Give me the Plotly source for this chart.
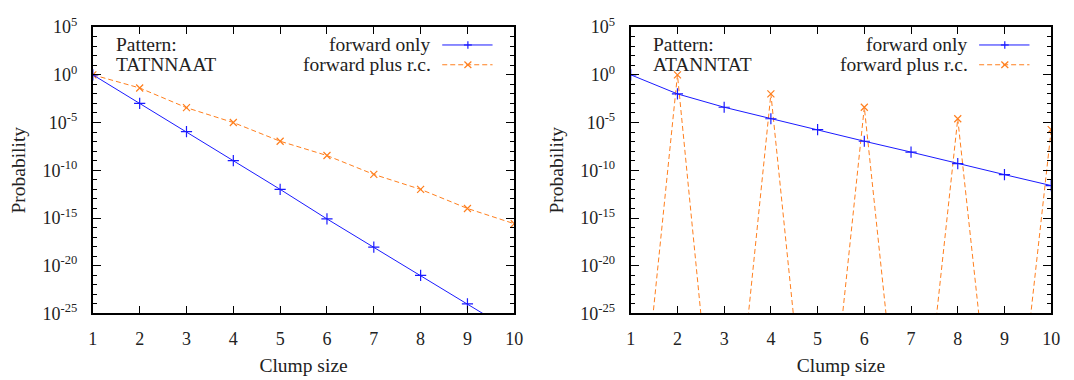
import plotly.graph_objects as go
from plotly.subplots import make_subplots

W, H = 1074, 380

clump_size = [1, 2, 3, 4, 5, 6, 7, 8, 9, 10]

# Pattern TATNNAAT
tat_forward = [1.0, 1.0e-3, 1.1e-6, 1.0e-9, 1.0e-12, 8.0e-16, 9.0e-19, 1.0e-21, 1.0e-24, 1.0e-27]
tat_forward_rc = [1.0, 4.2e-2, 3.6e-4, 1.0e-5, 1.1e-7, 3.5e-9, 3.7e-11, 1.0e-12, 1.0e-14, 2.5e-16]

# Pattern ATANNTAT
ata_forward = [1.0, 1.0e-2, 4.0e-4, 2.5e-5, 1.8e-6, 1.1e-7, 8.0e-9, 5.0e-10, 3.5e-11, 2.5e-12]
ata_forward_rc = [1.0e-48, 1.0, 1.0e-50, 1.0e-2, 1.0e-50, 4.0e-4, 1.0e-50, 2.5e-5, 1.0e-50, 1.8e-6]

patterns = ["TATNNAAT", "ATANNTAT"]
series_names = ["forward only", "forward plus r.c."]

y_tick_exp = [5, 0, -5, -10, -15, -20, -25]
y_tick_text = ["10<sup>%d</sup>" % e for e in y_tick_exp]

BLUE = "#1a1aff"
ORANGE = "#ff7f1e"
FONT = "Liberation Serif"
TXT = "#222"
TICK_SIZE = 18
TEXT_SIZE = 19.5

# frame geometry in pixels (left, right, top, bottom)
frames = [(89, 516, 16, 320), (634, 1060, 16, 320)]


def px(x):
    return x / W


def py(y):
    return 1 - y / H


fig = make_subplots(rows=1, cols=2)

panels = [(tat_forward, tat_forward_rc), (ata_forward, ata_forward_rc)]
for i, (fwd, rc) in enumerate(panels):
    col = i + 1
    fig.add_trace(go.Scatter(
        x=clump_size, y=rc, mode="lines+markers", name=series_names[1],
        line=dict(color=ORANGE, width=1, dash="5px,3px"),
        marker=dict(symbol="x-thin", size=7, line=dict(color=ORANGE, width=1.2)),
        showlegend=False), row=1, col=col)
    fig.add_trace(go.Scatter(
        x=clump_size, y=fwd, mode="lines+markers", name=series_names[0],
        line=dict(color=BLUE, width=1),
        marker=dict(symbol="cross-thin", size=8, line=dict(color=BLUE, width=1.2)),
        showlegend=False), row=1, col=col)

for i, (l, r, t, b) in enumerate(frames):
    col = i + 1
    fig.update_xaxes(
        domain=[px(l), px(r)], range=[1, 10], tickvals=clump_size,
        ticks="inside", ticklen=7, tickwidth=1.2, tickcolor="black",
        ticklabelstandoff=8,
        mirror="allticks", showline=True, linewidth=2, linecolor="black",
        showgrid=False, zeroline=False,
        tickfont=dict(family=FONT, size=TICK_SIZE, color=TXT),
        title=dict(text="Clump size", font=dict(family=FONT, size=TEXT_SIZE, color=TXT), standoff=10),
        row=1, col=col)
    fig.update_yaxes(
        domain=[py(b), py(t)], type="log", range=[-25, 5],
        tickvals=[10.0 ** e for e in y_tick_exp], ticktext=y_tick_text,
        ticks="inside", ticklen=8, tickwidth=1.2, tickcolor="black",
        ticklabelstandoff=10,
        minor=dict(dtick=1, ticks="inside", ticklen=4, tickwidth=1.2, tickcolor="black", showgrid=False),
        mirror="allticks", showline=True, linewidth=2, linecolor="black",
        showgrid=False, zeroline=False,
        tickfont=dict(family=FONT, size=TICK_SIZE, color=TXT),
        title=dict(text="Probability", font=dict(family=FONT, size=TEXT_SIZE, color=TXT), standoff=12),
        row=1, col=col)

    # pattern label
    fig.add_annotation(
        x=px(l + 21), y=py(35), xref="paper", yref="paper", xanchor="left", yanchor="middle",
        text="Pattern:", showarrow=False, font=dict(family=FONT, size=TEXT_SIZE, color=TXT))
    fig.add_annotation(
        x=px(l + 21), y=py(56), xref="paper", yref="paper", xanchor="left", yanchor="middle",
        text=patterns[i], showarrow=False, font=dict(family=FONT, size=TEXT_SIZE, color=TXT))

    # key: text on the left, line sample on the right
    key_rows = [(35, series_names[0], BLUE, False, "+"), (56, series_names[1], ORANGE, True, "x")]
    for yk, label, colr, dashed, sym in key_rows:
        fig.add_annotation(
            x=px(r - 82), y=py(yk), xref="paper", yref="paper", xanchor="right", yanchor="middle",
            text=label, showarrow=False, font=dict(family=FONT, size=TEXT_SIZE, color=TXT))
        fig.add_shape(type="line", xref="paper", yref="paper",
                      x0=px(r - 73), x1=px(r - 22), y0=py(yk), y1=py(yk),
                      line=dict(color=colr, width=1, dash="5px,3px" if dashed else "solid"))
        cx = r - 47
        if sym == "+":
            fig.add_shape(type="line", xref="paper", yref="paper",
                          x0=px(cx - 4), x1=px(cx + 4), y0=py(yk), y1=py(yk),
                          line=dict(color=colr, width=1.2))
            fig.add_shape(type="line", xref="paper", yref="paper",
                          x0=px(cx), x1=px(cx), y0=py(yk - 4), y1=py(yk + 4),
                          line=dict(color=colr, width=1.2))
        else:
            fig.add_shape(type="line", xref="paper", yref="paper",
                          x0=px(cx - 3.5), x1=px(cx + 3.5), y0=py(yk - 3.5), y1=py(yk + 3.5),
                          line=dict(color=colr, width=1.2))
            fig.add_shape(type="line", xref="paper", yref="paper",
                          x0=px(cx - 3.5), x1=px(cx + 3.5), y0=py(yk + 3.5), y1=py(yk - 3.5),
                          line=dict(color=colr, width=1.2))

fig.update_layout(
    width=W, height=H, margin=dict(l=0, r=0, t=0, b=0),
    paper_bgcolor="white", plot_bgcolor="white",
    font=dict(family=FONT, size=TEXT_SIZE, color=TXT),
)

fig.write_html("out.html")
